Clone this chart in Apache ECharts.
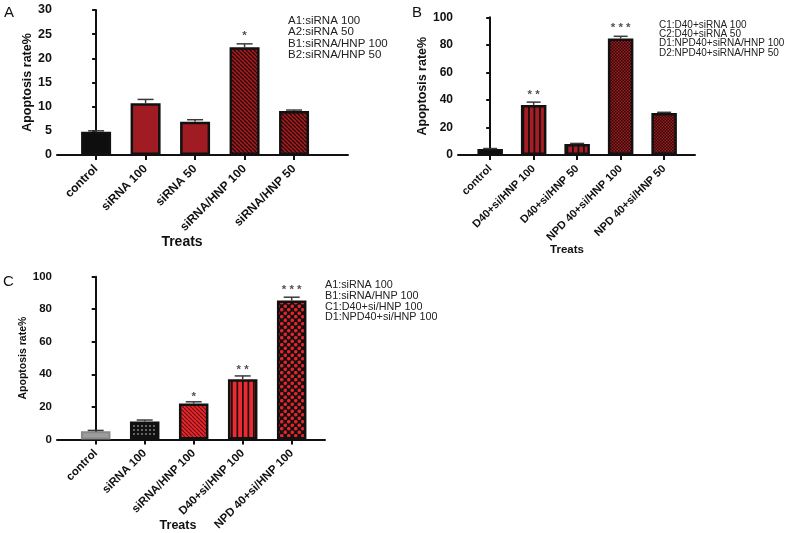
<!DOCTYPE html>
<html><head><meta charset="utf-8">
<script src="https://cdn.jsdelivr.net/npm/echarts@6/dist/echarts.min.js"></script>
<style>html,body{margin:0;padding:0;background:#fff}#c{width:792px;height:533px}</style>
</head><body><div id="c"></div>
<script>
// ---------- DATA ----------
const catsA = ['control', 'siRNA 100', 'siRNA 50', 'siRNA/HNP 100', 'siRNA/HNP 50'];
const meanA = [4.8, 10.7, 6.9, 22.3, 9.1];
const upperA = [5.0, 11.5, 7.3, 23.0, 9.3];
const starsA = [[3, 25.2, '*']];
const ticksA = {min: 0, max: 30, interval: 5};
const legendA = ['A1:siRNA 100', 'A2:siRNA 50', 'B1:siRNA/HNP 100', 'B2:siRNA/HNP 50'];

const catsB = ['control', 'D40+si/HNP 100', 'D40+si/HNP 50', 'NPD 40+si/HNP 100', 'NPD 40+si/HNP 50'];
const meanB = [4.3, 36.4, 8.0, 84.6, 30.5];
const upperB = [4.7, 38.4, 8.4, 86.2, 31.0];
const starsB = [[1, 45.6, '* *'], [3, 94.5, '* * *']];
const ticksB = {min: 0, max: 100, interval: 20};
const legendB = ['C1:D40+siRNA 100', 'C2:D40+siRNA 50', 'D1:NPD40+siRNA/HNP 100', 'D2:NPD40+siRNA/HNP 50'];

const catsC = ['control', 'siRNA 100', 'siRNA/HNP 100', 'D40+si/HNP 100', 'NPD 40+si/HNP 100'];
const meanC = [5.0, 11.0, 22.0, 37.0, 85.3];
const upperC = [5.5, 11.9, 23.1, 39.0, 87.4];
const starsC = [[2, 28.0, '*'], [3, 44.5, '* *'], [4, 93.5, '* * *']];
const ticksC = {min: 0, max: 100, interval: 20};
const legendC = ['A1:siRNA 100', 'B1:siRNA/HNP 100', 'C1:D40+si/HNP 100', 'D1:NPD40+si/HNP 100'];

const yName = 'Apoptosis rate%';
const xName = 'Treats';

// ---------- STYLES ----------
const FF = '"Liberation Sans", Arial, Helvetica, sans-serif';
function pat(w, h, draw) {
  const c = document.createElement('canvas'); c.width = w; c.height = h;
  const g = c.getContext('2d'); draw(g, w, h);
  return {image: c, repeat: 'repeat'};
}
function diag(base, line, p, lw) {
  return pat(p, p, (g) => {
    g.fillStyle = base; g.fillRect(0, 0, p, p);
    g.strokeStyle = line; g.lineWidth = lw; g.beginPath();
    for (const o of [-p, 0, p]) { g.moveTo(o, 0); g.lineTo(o + p, p); }
    g.stroke();
  });
}
function vstripe(base, line, w, lw) {
  return pat(w * 2, 2, (g) => {
    g.fillStyle = base; g.fillRect(0, 0, w * 2, 2);
    g.fillStyle = line; g.fillRect(0, 0, lw, 2); g.fillRect(w, 0, lw, 2);
  });
}
function checker(a, b, s) {
  return pat(s * 2, s * 2, (g) => {
    g.fillStyle = a; g.fillRect(0, 0, s * 2, s * 2);
    g.fillStyle = b; g.fillRect(0, 0, s, s); g.fillRect(s, s, s, s);
  });
}
function dots(base, dot, p, r, offset) {
  return pat(p, p, (g) => {
    g.fillStyle = base; g.fillRect(0, 0, p, p);
    g.fillStyle = dot;
    const pts = offset ? [[p / 4, p / 4], [3 * p / 4, 3 * p / 4]] : [[p / 2, p / 2]];
    for (const [x, y] of pts) { g.beginPath(); g.arc(x, y, r, 0, Math.PI * 2); g.fill(); }
  });
}
const B = {borderColor: '#111', borderWidth: 2.5};
const stylesA = [
  {color: '#0e0e0e', ...B}, {color: '#a11c22', ...B}, {color: '#a11c22', ...B},
  {color: diag('#a21d22', '#2a0606', 4, 1.3), ...B}, {color: diag('#a21d22', '#2a0606', 4, 1.3), ...B}
];
const stylesB = [
  {color: '#0e0e0e', ...B}, {color: vstripe('#a81d24', '#111', 5.5, 1.8), ...B},
  {color: vstripe('#a81d24', '#111', 5.5, 1.8), ...B},
  {color: checker('#9c1c21', '#2b0707', 1.5), ...B}, {color: checker('#9c1c21', '#2b0707', 1.5), ...B}
];
const stylesC = [
  {color: '#9d9d9d', borderColor: '#888', borderWidth: 2},
  {color: dots('#111', '#cfcfcf', 4, 0.8, false), ...B},
  {color: diag('#e5282e', '#6a0d0e', 4, 1.1), ...B},
  {color: vstripe('#ee2a30', '#111', 5.5, 1.7), ...B},
  {color: dots('#111', '#e8232a', 7, 1.8, true), ...B}
];

// ---------- BUILD ----------
const grids = [
  {left: 57, top: 10, width: 291, height: 145},
  {left: 458, top: 17.3, width: 237, height: 137.7},
  {left: 57, top: 276.7, width: 268, height: 163.3}
];
const xr = [[-0.79, 5.09], [-0.74, 4.71], [-0.79, 4.68]];
const cats = [catsA, catsB, catsC];
const means = [meanA, meanB, meanC];
const uppers = [upperA, upperB, upperC];
const stars = [starsA, starsB, starsC];
const ticks = [ticksA, ticksB, ticksC];
const styles = [stylesA, stylesB, stylesC];
const barW = [30, 25.5, 29.5];
const capHalf = [8, 7, 8];
const catFs = [12, 11, 11.5];
const catMargin = [12, 12, 12];
const tickFs = [12.5, 12, 11.5];
const yNameFs = [12.5, 12.5, 10.5];
const yNameGap = [22, 28, 25];

const xAxis = [], yAxis = [], series = [];
for (let i = 0; i < 3; i++) {
  const idx = cats[i].map((_, k) => k);
  xAxis.push({
    type: 'value', gridIndex: i, min: xr[i][0], max: xr[i][1],
    splitLine: {show: false},
    axisLine: {show: true, onZero: false, lineStyle: {color: '#111', width: 2}},
    axisTick: {show: true, customValues: idx, length: 5, lineStyle: {color: '#111', width: 2}},
    axisLabel: {customValues: idx, formatter: (v) => cats[i][Math.round(v)], rotate: 45, margin: catMargin[i],
      fontSize: catFs[i], fontWeight: 'bold', color: '#111', fontFamily: FF}
  });
  yAxis.push({
    type: 'value', gridIndex: i, min: ticks[i].min, max: ticks[i].max, interval: ticks[i].interval,
    splitLine: {show: false},
    axisLine: {show: true, lineStyle: {color: '#111', width: 2}},
    axisTick: {show: true, length: 4, lineStyle: {color: '#111', width: 2}},
    axisLabel: {margin: 5, fontSize: tickFs[i], fontWeight: 'bold', color: '#111', fontFamily: FF},
    name: yName, nameLocation: 'middle', nameGap: yNameGap[i],
    nameTextStyle: {fontSize: yNameFs[i], fontWeight: 'bold', color: '#111', fontFamily: FF}
  });
  series.push({
    type: 'bar', xAxisIndex: i, yAxisIndex: i, barWidth: barW[i], z: 2,
    data: means[i].map((m, k) => ({value: [k, m], itemStyle: styles[i][k]}))
  });
  const ch = capHalf[i];
  series.push({
    type: 'custom', xAxisIndex: i, yAxisIndex: i, z: 3,
    data: means[i].map((m, k) => [k, m, uppers[i][k]]),
    renderItem: (params, api) => {
      const p0 = api.coord([api.value(0), api.value(1)]);
      const p1 = api.coord([api.value(0), api.value(2)]);
      const st = {stroke: '#3a3a3a', lineWidth: 1.5};
      return {type: 'group', children: [
        {type: 'line', shape: {x1: p0[0], y1: p0[1], x2: p1[0], y2: p1[1]}, style: st},
        {type: 'line', shape: {x1: p1[0] - ch, y1: p1[1], x2: p1[0] + ch, y2: p1[1]}, style: st}
      ]};
    }
  });
  series.push({
    type: 'scatter', xAxisIndex: i, yAxisIndex: i, symbolSize: 1, z: 4,
    itemStyle: {color: 'rgba(0,0,0,0)'},
    data: stars[i].map(s => ({value: [s[0], s[1]], name: s[2]})),
    label: {show: true, position: 'inside', formatter: (p) => p.name, offset: [0, 3],
      fontSize: 11.5, fontWeight: 'bold', color: '#222', fontFamily: FF}
  });
}

function legendTexts(lines, x, ys, fs) {
  return lines.map((t, k) => ({type: 'text', x: x, y: ys[k],
    style: {text: t, fontSize: fs, fontFamily: FF, fill: '#222', verticalAlign: 'middle', align: 'left'}}));
}
const graphic = [
  {type: 'text', x: 4, y: 12.5, style: {text: 'A', fontSize: 15, fontFamily: FF, fill: '#111', verticalAlign: 'middle'}},
  {type: 'text', x: 412, y: 13, style: {text: 'B', fontSize: 15, fontFamily: FF, fill: '#111', verticalAlign: 'middle'}},
  {type: 'text', x: 3, y: 282, style: {text: 'C', fontSize: 15, fontFamily: FF, fill: '#111', verticalAlign: 'middle'}},
  {type: 'text', x: 182, y: 242, style: {text: xName, fontSize: 14, fontWeight: 'bold', fontFamily: FF, fill: '#111', align: 'center', verticalAlign: 'middle'}},
  {type: 'text', x: 567, y: 250, style: {text: xName, fontSize: 11.5, fontWeight: 'bold', fontFamily: FF, fill: '#111', align: 'center', verticalAlign: 'middle'}},
  {type: 'text', x: 178, y: 525.5, style: {text: xName, fontSize: 12.5, fontWeight: 'bold', fontFamily: FF, fill: '#111', align: 'center', verticalAlign: 'middle'}},
  ...legendTexts(legendA, 288, [20.7, 32.2, 43.6, 55], 11.5),
  ...legendTexts(legendB, 659, [25, 34.3, 43.5, 52.8], 10),
  ...legendTexts(legendC, 325, [285, 295.8, 306.6, 317.3], 10.8)
];

const chart = echarts.init(document.getElementById('c'), null, {renderer: 'canvas'});
chart.setOption({
  animation: false, backgroundColor: '#fff',
  grid: grids, xAxis: xAxis, yAxis: yAxis, series: series, graphic: graphic
});
</script></body></html>
